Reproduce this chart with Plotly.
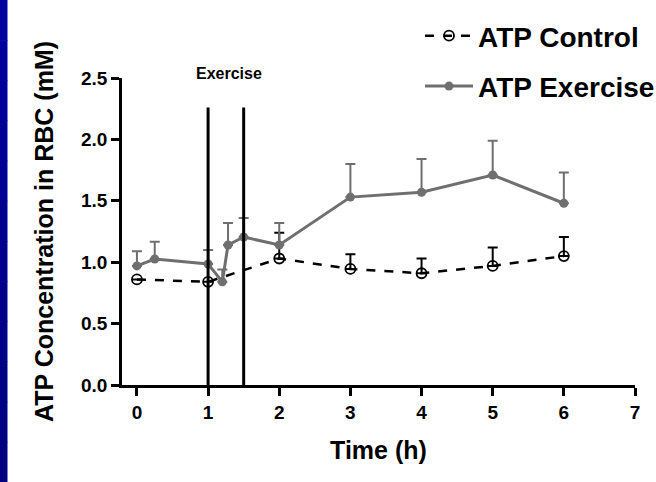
import plotly.graph_objects as go

# Data
ctrl_x = [0, 1, 2, 3, 4, 5, 6]
ctrl_y = [0.86, 0.84, 1.03, 0.945, 0.91, 0.97, 1.05]
ctrl_err = [0.0, 0.0, 0.21, 0.12, 0.12, 0.15, 0.155]

ex_x = [0, 0.25, 1, 1.2, 1.28, 1.5, 2, 3, 4, 5, 6]
ex_y = [0.97, 1.026, 0.985, 0.84, 1.14, 1.205, 1.14, 1.53, 1.57, 1.71, 1.48]
ex_err = [0.12, 0.14, 0.115, 0.10, 0.18, 0.155, 0.18, 0.27, 0.27, 0.28, 0.25]

exercise_start, exercise_end, exercise_top = 1.0, 1.5, 2.26
x_ticks = [0, 1, 2, 3, 4, 5, 6, 7]
y_ticks = [0.0, 0.5, 1.0, 1.5, 2.0, 2.5]
y_tick_text = ["0.0", "0.5", "1.0", "1.5", "2.0", "2.5"]

FONT = "Arial, 'Liberation Sans', sans-serif"
GRAY = "#6f6f6f"

W, H = 656, 482
L, R, T, B = 122, 21, 78, 97
PW, PH = W - L - R, H - T - B

fig = go.Figure()

fig.add_trace(go.Scatter(
    x=ctrl_x, y=ctrl_y, name="ATP Control", mode="lines+markers",
    legendgroup="c",
    line=dict(color="black", width=2.5, dash="dash"),
    marker=dict(symbol="circle-open", size=10, color="black", line=dict(width=1.8)),
    error_y=dict(type="data", symmetric=False, array=ctrl_err,
                 arrayminus=[0] * len(ctrl_err), color="black", thickness=2, width=5),
))
fig.add_trace(go.Scatter(
    x=ex_x, y=ex_y, name="ATP Exercise", mode="lines+markers",
    legendgroup="e",
    line=dict(color=GRAY, width=3),
    marker=dict(symbol="circle", size=9, color=GRAY),
    error_y=dict(type="data", symmetric=False, array=ex_err,
                 arrayminus=[0] * len(ex_err), color=GRAY, thickness=2, width=5),
))

# Exercise period lines
for xv in (exercise_start, exercise_end):
    fig.add_shape(type="line", xref="x", yref="y", x0=xv, x1=xv, y0=0, y1=exercise_top,
                  line=dict(color="black", width=3))

fig.add_annotation(text="<b>Exercise</b>", xref="x", yref="paper",
                   x=(exercise_start + exercise_end) / 2 + 0.05, y=1 + 5 / PH,
                   showarrow=False, font=dict(family=FONT, size=16, color="black"),
                   xanchor="center", yanchor="middle")

# Blue strip on the left (gradient)
n = 12
for i in range(n):
    c = int(0xa0 - (0xa0 - 0x80) * i / (n - 1))
    fig.add_shape(type="rect", xref="paper", yref="paper",
                  x0=-L / PW, x1=(7.5 - L) / PW,
                  y0=1 + T / PH - (H / PH) * (i + 1) / n - 0.002,
                  y1=1 + T / PH - (H / PH) * i / n,
                  fillcolor=f"rgb(0,0,{c})", line=dict(width=0), layer="below")

fig.update_layout(
    width=W, height=H,
    margin=dict(l=L, r=R, t=T, b=B, autoexpand=False),
    paper_bgcolor="white", plot_bgcolor="white",
    font=dict(family=FONT, color="black", weight="bold"),
    showlegend=True,
    legend=dict(x=(420 - L) / PW, y=1 + (T - 11) / PH, xanchor="left", yanchor="top",
                font=dict(family=FONT, size=28, color="black", weight="bold"),
                bgcolor="rgba(0,0,0,0)", itemwidth=48, tracegroupgap=11),
    xaxis=dict(range=[-0.21, 7], tickvals=x_ticks, showline=True, linecolor="black",
               linewidth=2.5, ticks="outside", ticklen=8, tickwidth=2.5, tickcolor="black",
               showgrid=False, zeroline=False,
               tickfont=dict(family=FONT, size=19, color="black", weight="bold"),
               title=dict(text="Time (h)", font=dict(family=FONT, size=25, color="black", weight="bold"),
                          standoff=20)),
    yaxis=dict(range=[0, 2.5], tickvals=y_ticks, ticktext=y_tick_text, showline=True,
               linecolor="black", linewidth=2.5, ticks="outside", ticklen=8, tickwidth=2.5,
               tickcolor="black", showgrid=False, zeroline=False,
               tickfont=dict(family=FONT, size=19, color="black", weight="bold"),
               title=dict(text="ATP Concentration in RBC (mM)",
                          font=dict(family=FONT, size=25, color="black", weight="bold"),
                          standoff=21)),
)

fig.write_html("out.html")
